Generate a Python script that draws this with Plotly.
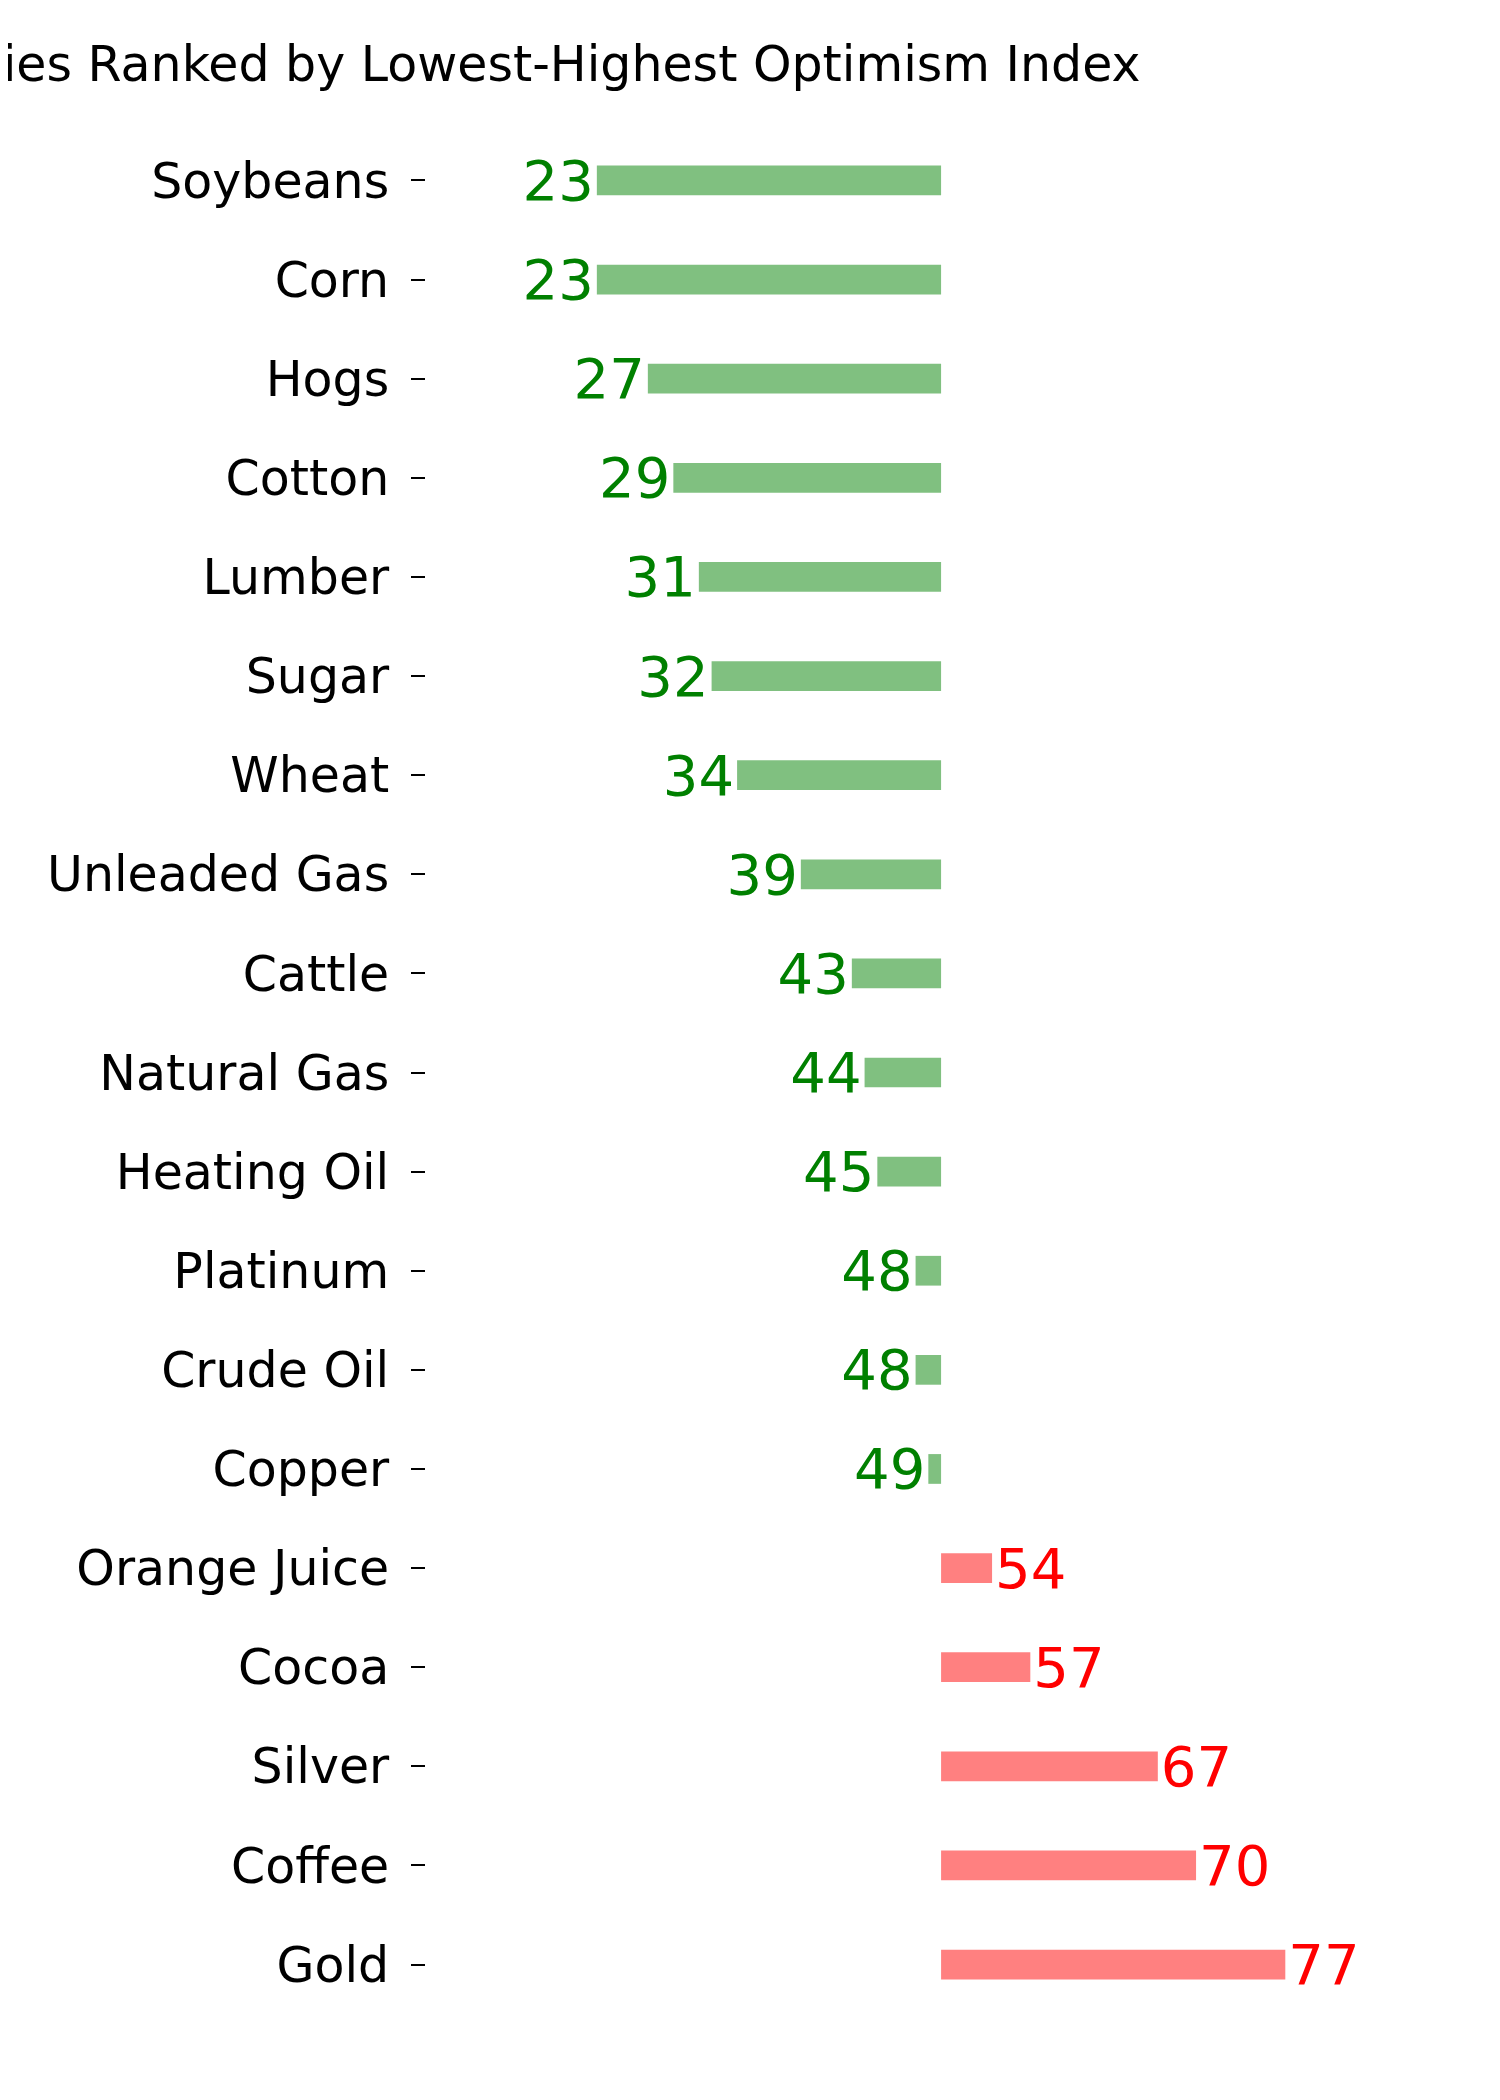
import plotly.graph_objects as go

categories = ["Soybeans","Corn","Hogs","Cotton","Lumber","Sugar","Wheat","Unleaded Gas","Cattle",
              "Natural Gas","Heating Oil","Platinum","Crude Oil","Copper","Orange Juice","Cocoa",
              "Silver","Coffee","Gold"]
values = [23,23,27,29,31,32,34,39,43,44,45,48,48,49,54,57,67,70,77]
baseline = 50

bar_colors = ["#80c080" if v < baseline else "#ff8080" for v in values]
text_colors = ["green" if v < baseline else "red" for v in values]

fig = go.Figure(go.Bar(
    y=categories, x=[v - baseline for v in values], base=baseline, orientation="h",
    width=0.3, marker=dict(color=bar_colors, line_width=0),
    text=[str(v) for v in values], textposition="outside", constraintext="none",
    textfont=dict(size=56, color=text_colors, family="DejaVu Sans"),
    cliponaxis=False,
))
fig.update_layout(
    width=1500, height=2100, plot_bgcolor="white", paper_bgcolor="white",
    margin=dict(l=418, r=34, t=113, b=84),
    font=dict(family="DejaVu Sans", color="black"),
    title=dict(text="Commodities Ranked by Lowest-Highest Optimism Index", xref="container",
               x=0.755, xanchor="right", y=1-56/2100, yanchor="middle", font=dict(size=49)),
    showlegend=False,
)
fig.update_xaxes(range=[9.6, 91.8], visible=False)
fig.update_yaxes(autorange=False, range=[18.6, -0.6], showline=False, showgrid=False,
                 ticks="outside", ticklen=14, tickwidth=2, tickcolor="black",
                 tickfont=dict(size=49), ticklabelstandoff=12)
fig.write_html("out.html")
